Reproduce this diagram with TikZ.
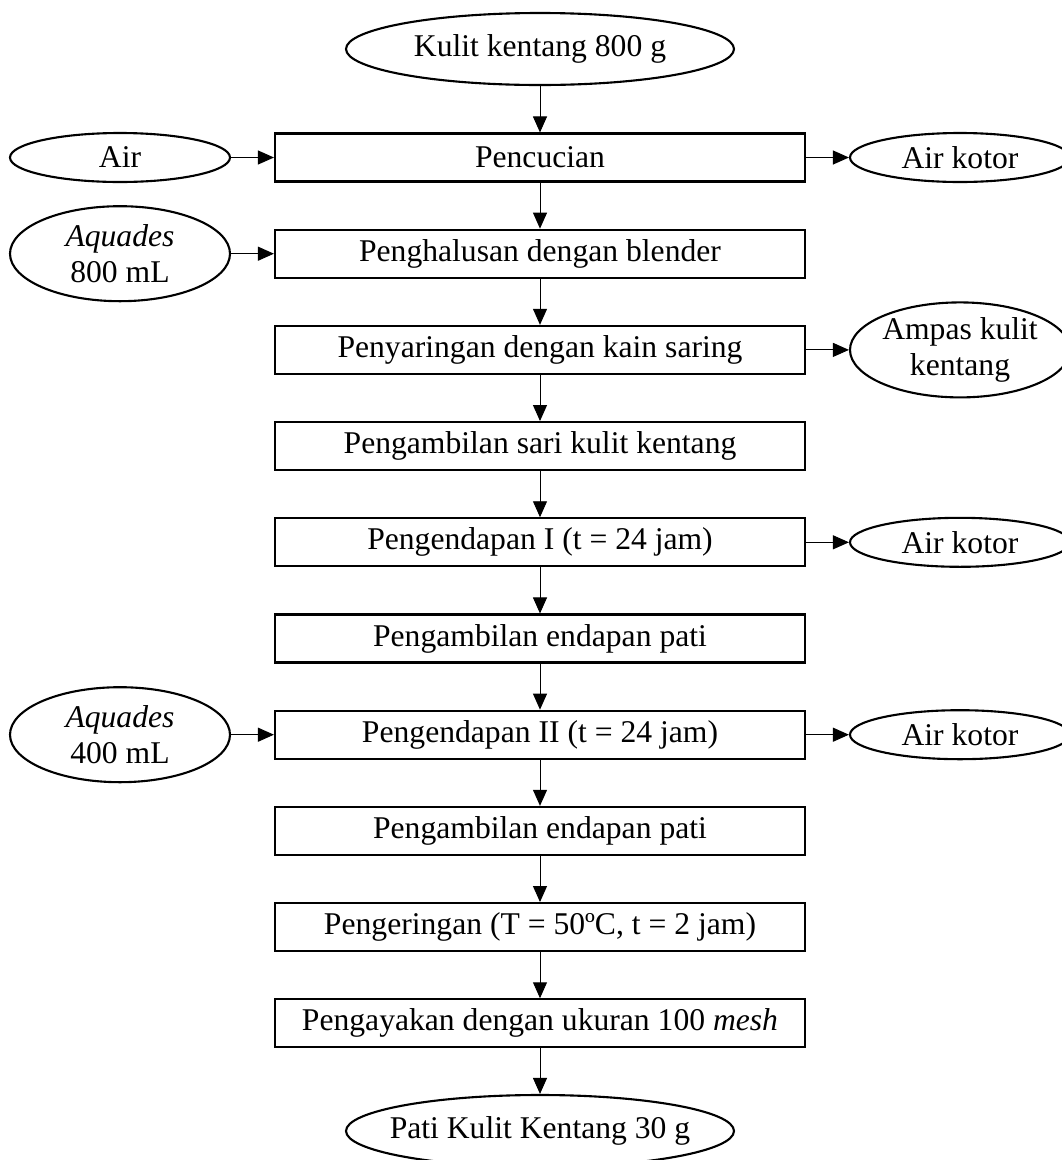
\documentclass[tikz,border=0pt]{standalone}
\usepackage{fontspec}
\setmainfont{Liberation Serif}
\usepackage{tikz}
\usetikzlibrary{arrows.meta,shapes.geometric}
\tikzset{
  proc/.style={draw, line width=1.5pt, minimum width=13.25cm, minimum height=1.2cm, inner sep=0pt, align=center, font=\fontsize{22.5}{25.6}\selectfont},
  term/.style={draw, ellipse, line width=1.5pt, minimum width=9.7cm, minimum height=1.8cm, inner sep=0pt, inner xsep=-4mm, align=center, font=\fontsize{22.5}{25.6}\selectfont},
  side/.style={term, inner xsep=0pt, minimum width=5.5cm, minimum height=1.225cm},
  sidetall/.style={side, minimum height=2.375cm},
  arr/.style={-{Triangle[length=4mm,width=3.5mm]}, line width=0.7pt},
}
\begin{document}
\begin{tikzpicture}
\useasboundingbox (0,0) rectangle (26.55,-29);
\node[term] (start) at (13.5,-1.225) {Kulit kentang 800 g};
\foreach \i/\t in {1/Pencucian,2/Penghalusan dengan blender,3/Penyaringan dengan kain saring,4/Pengambilan sari kulit kentang,5/Pengendapan I (t = 24 jam),6/Pengambilan endapan pati,7/Pengendapan II (t = 24 jam),8/Pengambilan endapan pati,9/{Pengeringan (T = 50ºC, t = 2 jam)},10/Pengayakan dengan ukuran 100 \textit{mesh}}{\node[proc] (p\i) at (13.5,{-3.9375-2.405*(\i-1)}) {\t};}
\node[term] (finish) at (13.5,-28.275) {Pati Kulit Kentang 30 g};
% bahan masuk
\node[side] (inA) at (3,0 |- p1) {Air};
\node[sidetall] (inB) at (3,0 |- p2) {\textit{Aquades}\\800 mL};
\node[sidetall] (inC) at (3,0 |- p7) {\textit{Aquades}\\400 mL};
% bahan keluar
\node[side] (outA) at (24,0 |- p1) {Air kotor};
\node[sidetall] (outB) at (24,0 |- p3) {Ampas kulit\\kentang};
\node[side] (outC) at (24,0 |- p5) {Air kotor};
\node[side] (outD) at (24,0 |- p7) {Air kotor};
\draw[arr] (start) -- (p1);
\foreach \i [evaluate=\i as \j using int(\i+1)] in {1,...,9}{\draw[arr] (p\i) -- (p\j);}
\draw[arr] (p10) -- (finish);
\foreach \a/\b in {inA/p1,inB/p2,inC/p7}{\draw[arr] (\a.east) -- (\b.west);}
\foreach \a/\b in {p1/outA,p3/outB,p5/outC,p7/outD}{\draw[arr] (\a.east) -- (\b.west);}
\end{tikzpicture}
\end{document}
